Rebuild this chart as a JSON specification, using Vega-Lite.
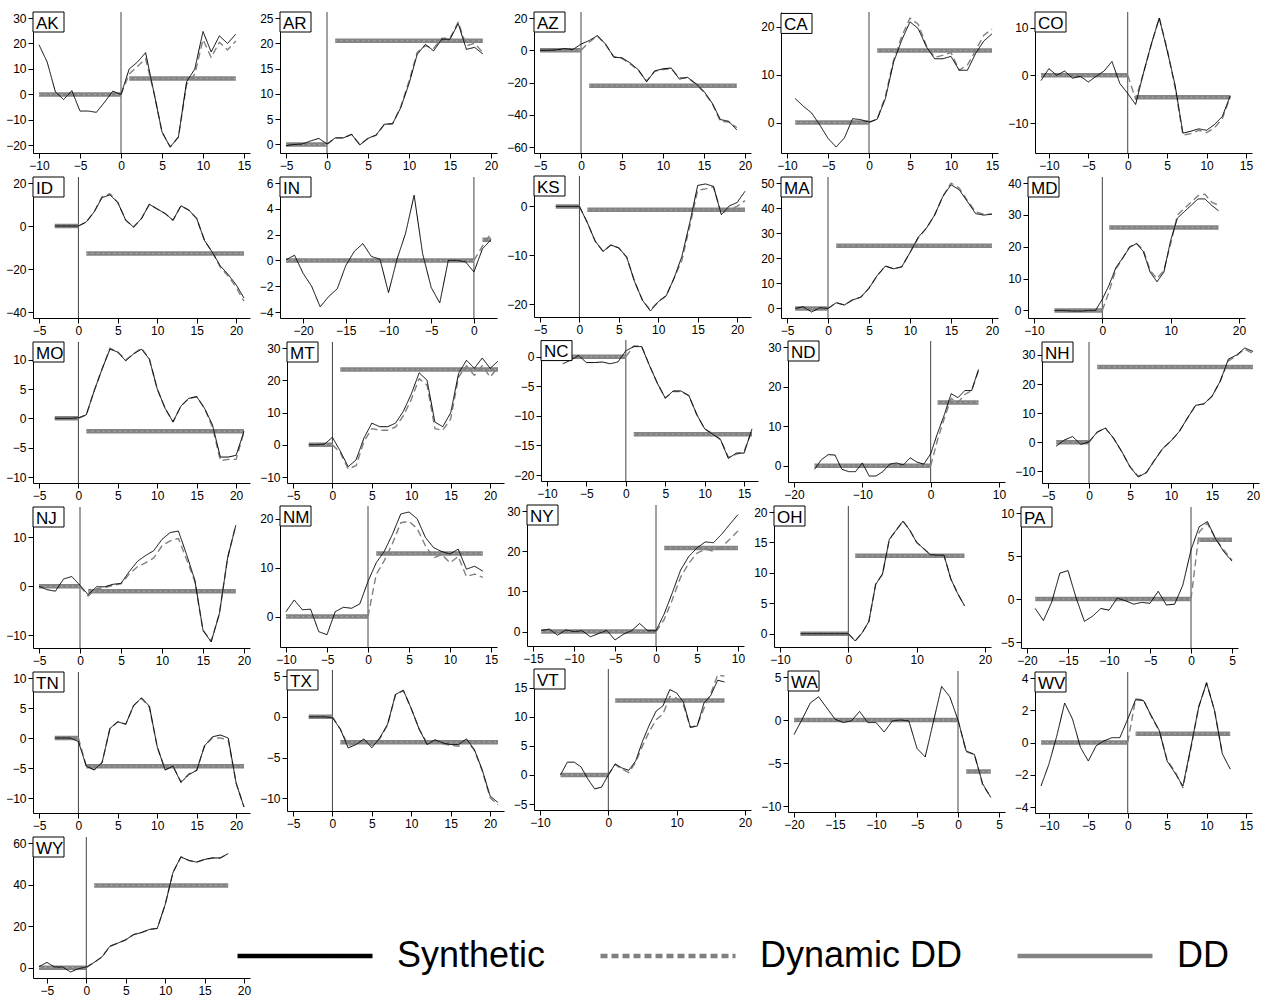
{
"$schema":"https://vega.github.io/schema/vega-lite/v6.json",
"background":"white",
"padding":{"left":5,"top":9,"right":2,"bottom":2},
"data":{"values":[
{"s":"AK","t":-10,"y":19.5,"a":0,"x0":-10,"x1":15,"y0":-20.6,"y1":30},
{"s":"AK","t":-9,"y":12.7,"a":0},{"s":"AK","t":-8,"y":1,"a":0},{"s":"AK","t":-7,"y":-2,"a":0},{"s":"AK","t":-6,"y":1.5,"a":0},{"s":"AK","t":-5,"y":-6.5,"a":0},{"s":"AK","t":-4,"y":-6.5,"a":0},{"s":"AK","t":-3,"y":-7,"a":0},{"s":"AK","t":-2,"y":-3,"a":0},{"s":"AK","t":-1,"y":1.3,"a":0},{"s":"AK","t":0,"y":0,"a":0,"d":0},
{"s":"AK","t":1,"y":10,"d":8,"b":6.3},{"s":"AK","t":2,"y":12.7,"d":11,"b":6.3},{"s":"AK","t":3,"y":16.4,"d":14,"b":6.3},{"s":"AK","t":4,"y":1,"d":1,"b":6.3},{"s":"AK","t":5,"y":-14.7,"d":-14.7,"b":6.3},{"s":"AK","t":6,"y":-20.6,"d":-20.6,"b":6.3},{"s":"AK","t":7,"y":-16.7,"d":-16.7,"b":6.3},{"s":"AK","t":8,"y":5,"d":4,"b":6.3},{"s":"AK","t":9,"y":10,"d":8,"b":6.3},{"s":"AK","t":10,"y":24.7,"d":21.5,"b":6.3},{"s":"AK","t":11,"y":16.7,"d":14.5,"b":6.3},{"s":"AK","t":12,"y":23,"d":20.5,"b":6.3},{"s":"AK","t":13,"y":20,"d":17.5,"b":6.3},{"s":"AK","t":14,"y":23.7,"d":21,"b":6.3},

{"s":"AR","t":-5,"y":-0.2,"a":0,"x0":-5,"x1":20,"y0":-0.5,"y1":25},
{"s":"AR","t":-4,"y":0,"a":0},{"s":"AR","t":-3,"y":0.1,"a":0},{"s":"AR","t":-2,"y":0.7,"a":0},{"s":"AR","t":-1,"y":1.2,"a":0},{"s":"AR","t":0,"y":0.1,"a":0,"d":0},
{"s":"AR","t":1,"y":1.3,"d":1.3,"b":20.5},{"s":"AR","t":2,"y":1.3,"d":1.3,"b":20.5},{"s":"AR","t":3,"y":2,"d":2,"b":20.5},{"s":"AR","t":4,"y":-0.1,"d":0,"b":20.5},{"s":"AR","t":5,"y":1.2,"d":1.2,"b":20.5},{"s":"AR","t":6,"y":1.9,"d":1.8,"b":20.5},{"s":"AR","t":7,"y":4,"d":4,"b":20.5},{"s":"AR","t":8,"y":4.1,"d":4.1,"b":20.5},{"s":"AR","t":9,"y":7.3,"d":7.5,"b":20.5},{"s":"AR","t":10,"y":12,"d":12.5,"b":20.5},{"s":"AR","t":11,"y":17.8,"d":18.2,"b":20.5},{"s":"AR","t":12,"y":19.8,"d":19.5,"b":20.5},{"s":"AR","t":13,"y":18.5,"d":19,"b":20.5},{"s":"AR","t":14,"y":20.8,"d":21,"b":20.5},{"s":"AR","t":15,"y":20.8,"d":21,"b":20.5},{"s":"AR","t":16,"y":23.9,"d":24.2,"b":20.5},{"s":"AR","t":17,"y":18.8,"d":19.5,"b":20.5},{"s":"AR","t":18,"y":19.2,"d":20,"b":20.5},{"s":"AR","t":19,"y":17.9,"d":18.2,"b":20.5},

{"s":"AZ","t":-5,"y":0,"a":0,"x0":-5,"x1":20,"y0":-60,"y1":20},
{"s":"AZ","t":-4,"y":0,"a":0},{"s":"AZ","t":-3,"y":0.2,"a":0},{"s":"AZ","t":-2,"y":1,"a":0},{"s":"AZ","t":-1,"y":0.4,"a":0},{"s":"AZ","t":0,"y":3.8,"a":0,"d":0},
{"s":"AZ","t":1,"y":6,"d":5,"b":-22},{"s":"AZ","t":2,"y":9.1,"d":8.8,"b":-22},{"s":"AZ","t":3,"y":3.8,"d":3.5,"b":-22},{"s":"AZ","t":4,"y":-4.3,"d":-4,"b":-22},{"s":"AZ","t":5,"y":-4.7,"d":-5,"b":-22},{"s":"AZ","t":6,"y":-7.9,"d":-8.5,"b":-22},{"s":"AZ","t":7,"y":-12.1,"d":-12.5,"b":-22},{"s":"AZ","t":8,"y":-19.6,"d":-19,"b":-22},{"s":"AZ","t":9,"y":-12.8,"d":-13,"b":-22},{"s":"AZ","t":10,"y":-11.5,"d":-12,"b":-22},{"s":"AZ","t":11,"y":-11,"d":-11.5,"b":-22},{"s":"AZ","t":12,"y":-17.9,"d":-17,"b":-22},{"s":"AZ","t":13,"y":-16.8,"d":-17,"b":-22},{"s":"AZ","t":14,"y":-20.6,"d":-21,"b":-22},{"s":"AZ","t":15,"y":-25.5,"d":-26,"b":-22},{"s":"AZ","t":16,"y":-32.8,"d":-33,"b":-22},{"s":"AZ","t":17,"y":-43,"d":-44,"b":-22},{"s":"AZ","t":18,"y":-44,"d":-44.5,"b":-22},{"s":"AZ","t":19,"y":-49.4,"d":-48,"b":-22},

{"s":"CA","t":-9,"y":5,"a":0,"x0":-10,"x1":15,"y0":-5.1,"y1":21.5},
{"s":"CA","t":-8,"y":3.4,"a":0},{"s":"CA","t":-7,"y":2,"a":0},{"s":"CA","t":-6,"y":-0.5,"a":0},{"s":"CA","t":-5,"y":-3.3,"a":0},{"s":"CA","t":-4,"y":-5.1,"a":0},{"s":"CA","t":-3,"y":-3.2,"a":0},{"s":"CA","t":-2,"y":0.8,"a":0},{"s":"CA","t":-1,"y":0.6,"a":0},{"s":"CA","t":0,"y":0.1,"a":0,"d":0},
{"s":"CA","t":1,"y":0.7,"d":0.7,"b":15},{"s":"CA","t":2,"y":5,"d":5.5,"b":15},{"s":"CA","t":3,"y":12.6,"d":13,"b":15},{"s":"CA","t":4,"y":17.2,"d":18,"b":15},{"s":"CA","t":5,"y":21,"d":21.8,"b":15},{"s":"CA","t":6,"y":19.6,"d":20.5,"b":15},{"s":"CA","t":7,"y":15.8,"d":16,"b":15},{"s":"CA","t":8,"y":13.3,"d":13.6,"b":15},{"s":"CA","t":9,"y":13.3,"d":14,"b":15},{"s":"CA","t":10,"y":13.8,"d":14.6,"b":15},{"s":"CA","t":11,"y":10.9,"d":10.9,"b":15},{"s":"CA","t":12,"y":10.9,"d":12,"b":15},{"s":"CA","t":13,"y":14.4,"d":15,"b":15},{"s":"CA","t":14,"y":17,"d":18.2,"b":15},{"s":"CA","t":15,"y":18.5,"d":19.5,"b":15},

{"s":"CO","t":-11,"y":-1.1,"a":0,"x0":-11,"x1":15,"y0":-15,"y1":12},
{"s":"CO","t":-10,"y":1.4,"a":0},{"s":"CO","t":-9,"y":0,"a":0},{"s":"CO","t":-8,"y":0.9,"a":0},{"s":"CO","t":-7,"y":-0.6,"a":0},{"s":"CO","t":-6,"y":-0.2,"a":0},{"s":"CO","t":-5,"y":-1.4,"a":0},{"s":"CO","t":-4,"y":-0.2,"a":0},{"s":"CO","t":-3,"y":0.9,"a":0},{"s":"CO","t":-2,"y":2.9,"a":0},{"s":"CO","t":-1,"y":-1.7,"a":0},{"s":"CO","t":0,"y":-3.8,"a":0,"d":0},
{"s":"CO","t":1,"y":-6.1,"d":-5,"b":-4.6},{"s":"CO","t":2,"y":0.5,"d":0.5,"b":-4.6},{"s":"CO","t":3,"y":6.6,"d":6.5,"b":-4.6},{"s":"CO","t":4,"y":12,"d":12,"b":-4.6},{"s":"CO","t":5,"y":5.2,"d":5.5,"b":-4.6},{"s":"CO","t":6,"y":-2,"d":-2.5,"b":-4.6},{"s":"CO","t":7,"y":-12.1,"d":-12.5,"b":-4.6},{"s":"CO","t":8,"y":-11.7,"d":-12.2,"b":-4.6},{"s":"CO","t":9,"y":-11.2,"d":-11.5,"b":-4.6},{"s":"CO","t":10,"y":-11.5,"d":-12,"b":-4.6},{"s":"CO","t":11,"y":-10.3,"d":-11,"b":-4.6},{"s":"CO","t":12,"y":-8.6,"d":-9,"b":-4.6},{"s":"CO","t":13,"y":-4.3,"d":-4.5,"b":-4.6},

{"s":"ID","t":-3,"y":0,"a":0,"x0":-5,"x1":21,"y0":-40,"y1":20},
{"s":"ID","t":-2,"y":0,"a":0},{"s":"ID","t":-1,"y":0,"a":0},{"s":"ID","t":0,"y":0,"a":0,"d":0},
{"s":"ID","t":1,"y":1.9,"d":1.9,"b":-12.8},{"s":"ID","t":2,"y":6.6,"d":6.6,"b":-12.8},{"s":"ID","t":3,"y":13.2,"d":13.7,"b":-12.8},{"s":"ID","t":4,"y":14.5,"d":15,"b":-12.8},{"s":"ID","t":5,"y":10.9,"d":10.9,"b":-12.8},{"s":"ID","t":6,"y":2.7,"d":2.7,"b":-12.8},{"s":"ID","t":7,"y":-0.5,"d":-0.5,"b":-12.8},{"s":"ID","t":8,"y":3.5,"d":3.5,"b":-12.8},{"s":"ID","t":9,"y":10.1,"d":10.1,"b":-12.8},{"s":"ID","t":10,"y":7.9,"d":7.9,"b":-12.8},{"s":"ID","t":11,"y":5.8,"d":5.8,"b":-12.8},{"s":"ID","t":12,"y":2.7,"d":2.7,"b":-12.8},{"s":"ID","t":13,"y":9.4,"d":9.4,"b":-12.8},{"s":"ID","t":14,"y":7.4,"d":7.4,"b":-12.8},{"s":"ID","t":15,"y":3.5,"d":3.5,"b":-12.8},{"s":"ID","t":16,"y":-6.8,"d":-6.8,"b":-12.8},{"s":"ID","t":17,"y":-12.3,"d":-12.3,"b":-12.8},{"s":"ID","t":18,"y":-18.6,"d":-19.2,"b":-12.8},{"s":"ID","t":19,"y":-22.6,"d":-23.3,"b":-12.8},{"s":"ID","t":20,"y":-27.3,"d":-28.5,"b":-12.8},{"s":"ID","t":21,"y":-33.5,"d":-35,"b":-12.8},

{"s":"IN","t":-22,"y":0.05,"a":0,"x0":-22,"x1":2,"y0":-4,"y1":6},
{"s":"IN","t":-21,"y":0.4,"a":0},{"s":"IN","t":-20,"y":-1,"a":0},{"s":"IN","t":-19,"y":-2,"a":0},{"s":"IN","t":-18,"y":-3.6,"a":0},{"s":"IN","t":-17,"y":-2.8,"a":0},{"s":"IN","t":-16,"y":-2.2,"a":0},{"s":"IN","t":-15,"y":-0.4,"a":0},{"s":"IN","t":-14,"y":0.7,"a":0},{"s":"IN","t":-13,"y":1.3,"a":0},{"s":"IN","t":-12,"y":0.3,"a":0},{"s":"IN","t":-11,"y":0.1,"a":0},{"s":"IN","t":-10,"y":-2.5,"a":0},{"s":"IN","t":-9,"y":0.1,"a":0},{"s":"IN","t":-8,"y":2.1,"a":0},{"s":"IN","t":-7,"y":5.05,"a":0},{"s":"IN","t":-6,"y":0.5,"a":0},{"s":"IN","t":-5,"y":-2.1,"a":0},{"s":"IN","t":-4,"y":-3.3,"a":0},{"s":"IN","t":-3,"y":0,"a":0},{"s":"IN","t":-2,"y":0,"a":0},{"s":"IN","t":-1,"y":-0.1,"a":0},{"s":"IN","t":0,"y":-0.9,"a":0,"d":0},
{"s":"IN","t":1,"y":0.9,"d":1.1,"b":1.6},{"s":"IN","t":2,"y":1.6,"d":2.1,"b":1.6},

{"s":"KS","t":-3,"y":0,"a":0,"x0":-5,"x1":21,"y0":-21.4,"y1":5},
{"s":"KS","t":-2,"y":0,"a":0},{"s":"KS","t":-1,"y":0,"a":0},{"s":"KS","t":0,"y":0,"a":0,"d":0},
{"s":"KS","t":1,"y":-3.3,"d":-3.3,"b":-0.7},{"s":"KS","t":2,"y":-7.1,"d":-7.1,"b":-0.7},{"s":"KS","t":3,"y":-9.2,"d":-9.2,"b":-0.7},{"s":"KS","t":4,"y":-7.9,"d":-7.9,"b":-0.7},{"s":"KS","t":5,"y":-8.5,"d":-8.5,"b":-0.7},{"s":"KS","t":6,"y":-10.4,"d":-10.4,"b":-0.7},{"s":"KS","t":7,"y":-15.4,"d":-15.4,"b":-0.7},{"s":"KS","t":8,"y":-19.2,"d":-19.2,"b":-0.7},{"s":"KS","t":9,"y":-21.4,"d":-21.2,"b":-0.7},{"s":"KS","t":10,"y":-19.5,"d":-19.5,"b":-0.7},{"s":"KS","t":11,"y":-18.3,"d":-18.3,"b":-0.7},{"s":"KS","t":12,"y":-14.7,"d":-14.7,"b":-0.7},{"s":"KS","t":13,"y":-10.2,"d":-11,"b":-0.7},{"s":"KS","t":14,"y":-3.3,"d":-4,"b":-0.7},{"s":"KS","t":15,"y":4.3,"d":3.3,"b":-0.7},{"s":"KS","t":16,"y":4.6,"d":3.6,"b":-0.7},{"s":"KS","t":17,"y":4.1,"d":4,"b":-0.7},{"s":"KS","t":18,"y":-1.7,"d":-1.5,"b":-0.7},{"s":"KS","t":19,"y":0.1,"d":-0.5,"b":-0.7},{"s":"KS","t":20,"y":0.8,"d":0,"b":-0.7},{"s":"KS","t":21,"y":3.1,"d":1.2,"b":-0.7},

{"s":"MA","t":-4,"y":0,"a":0,"x0":-5,"x1":20,"y0":-1.4,"y1":50},
{"s":"MA","t":-3,"y":0.7,"a":0},{"s":"MA","t":-2,"y":-1.4,"a":0},{"s":"MA","t":-1,"y":0.3,"a":0},{"s":"MA","t":0,"y":0,"a":0,"d":0},
{"s":"MA","t":1,"y":2.3,"d":2.3,"b":25},{"s":"MA","t":2,"y":1.4,"d":1.4,"b":25},{"s":"MA","t":3,"y":3.4,"d":3.4,"b":25},{"s":"MA","t":4,"y":4.5,"d":4.5,"b":25},{"s":"MA","t":5,"y":8.1,"d":8.1,"b":25},{"s":"MA","t":6,"y":13.1,"d":13.1,"b":25},{"s":"MA","t":7,"y":16.9,"d":16.9,"b":25},{"s":"MA","t":8,"y":15.8,"d":15.8,"b":25},{"s":"MA","t":9,"y":16.6,"d":16.6,"b":25},{"s":"MA","t":10,"y":22.3,"d":22.3,"b":25},{"s":"MA","t":11,"y":28.4,"d":28,"b":25},{"s":"MA","t":12,"y":32,"d":32,"b":25},{"s":"MA","t":13,"y":37.2,"d":37.2,"b":25},{"s":"MA","t":14,"y":44.6,"d":44.6,"b":25},{"s":"MA","t":15,"y":49.3,"d":50,"b":25},{"s":"MA","t":16,"y":47.3,"d":48,"b":25},{"s":"MA","t":17,"y":42.6,"d":43,"b":25},{"s":"MA","t":18,"y":37.8,"d":38.5,"b":25},{"s":"MA","t":19,"y":37.2,"d":37.5,"b":25},{"s":"MA","t":20,"y":37.6,"d":37.6,"b":25},

{"s":"MD","t":-7,"y":0,"a":0,"x0":-10,"x1":20,"y0":-0.5,"y1":40},
{"s":"MD","t":-6,"y":0,"a":0},{"s":"MD","t":-5,"y":-0.1,"a":0},{"s":"MD","t":-4,"y":-0.2,"a":0},{"s":"MD","t":-3,"y":-0.2,"a":0},{"s":"MD","t":-2,"y":0,"a":0},{"s":"MD","t":-1,"y":0,"a":0},{"s":"MD","t":0,"y":3.5,"a":0,"d":0},
{"s":"MD","t":1,"y":8,"d":6,"b":26},{"s":"MD","t":2,"y":13.5,"d":13,"b":26},{"s":"MD","t":3,"y":16.5,"d":16.5,"b":26},{"s":"MD","t":4,"y":19.8,"d":20,"b":26},{"s":"MD","t":5,"y":21,"d":21,"b":26},{"s":"MD","t":6,"y":18.5,"d":19,"b":26},{"s":"MD","t":7,"y":12,"d":12.5,"b":26},{"s":"MD","t":8,"y":9,"d":10,"b":26},{"s":"MD","t":9,"y":12,"d":12.5,"b":26},{"s":"MD","t":10,"y":22,"d":21,"b":26},{"s":"MD","t":11,"y":29,"d":30,"b":26},{"s":"MD","t":12,"y":31,"d":32,"b":26},{"s":"MD","t":13,"y":33,"d":34,"b":26},{"s":"MD","t":14,"y":35,"d":36,"b":26},{"s":"MD","t":15,"y":35,"d":36.5,"b":26},{"s":"MD","t":16,"y":33,"d":34,"b":26},{"s":"MD","t":17,"y":31.3,"d":33,"b":26},

{"s":"MO","t":-3,"y":0,"a":0,"x0":-5,"x1":21,"y0":-10,"y1":12},
{"s":"MO","t":-2,"y":0,"a":0},{"s":"MO","t":-1,"y":0,"a":0},{"s":"MO","t":0,"y":0.1,"a":0,"d":0},
{"s":"MO","t":1,"y":0.6,"d":0.6,"b":-2.2},{"s":"MO","t":2,"y":4.7,"d":4.7,"b":-2.2},{"s":"MO","t":3,"y":8.4,"d":8.4,"b":-2.2},{"s":"MO","t":4,"y":11.8,"d":12,"b":-2.2},{"s":"MO","t":5,"y":11.3,"d":11.3,"b":-2.2},{"s":"MO","t":6,"y":9.8,"d":10,"b":-2.2},{"s":"MO","t":7,"y":11,"d":11,"b":-2.2},{"s":"MO","t":8,"y":11.8,"d":12,"b":-2.2},{"s":"MO","t":9,"y":10.1,"d":10.1,"b":-2.2},{"s":"MO","t":10,"y":5,"d":5,"b":-2.2},{"s":"MO","t":11,"y":1.7,"d":1.7,"b":-2.2},{"s":"MO","t":12,"y":-0.6,"d":-0.6,"b":-2.2},{"s":"MO","t":13,"y":2.1,"d":2.1,"b":-2.2},{"s":"MO","t":14,"y":3.4,"d":3.4,"b":-2.2},{"s":"MO","t":15,"y":3.7,"d":3.7,"b":-2.2},{"s":"MO","t":16,"y":1.7,"d":1.7,"b":-2.2},{"s":"MO","t":17,"y":-1.1,"d":-1.5,"b":-2.2},{"s":"MO","t":18,"y":-6.6,"d":-7.2,"b":-2.2},{"s":"MO","t":19,"y":-6.6,"d":-7,"b":-2.2},{"s":"MO","t":20,"y":-6.3,"d":-7,"b":-2.2},{"s":"MO","t":21,"y":-2.2,"d":-2.3,"b":-2.2},

{"s":"MT","t":-3,"y":0,"a":0,"x0":-5,"x1":21,"y0":-10,"y1":30},
{"s":"MT","t":-2,"y":0,"a":0},{"s":"MT","t":-1,"y":0.2,"a":0},{"s":"MT","t":0,"y":2.3,"a":0,"d":0},
{"s":"MT","t":1,"y":-2,"d":-2.5,"b":23.3},{"s":"MT","t":2,"y":-6.8,"d":-7.5,"b":23.3},{"s":"MT","t":3,"y":-4.7,"d":-6.5,"b":23.3},{"s":"MT","t":4,"y":2.1,"d":1,"b":23.3},{"s":"MT","t":5,"y":6.7,"d":5,"b":23.3},{"s":"MT","t":6,"y":5.6,"d":4.5,"b":23.3},{"s":"MT","t":7,"y":5.6,"d":4.5,"b":23.3},{"s":"MT","t":8,"y":6.7,"d":5.5,"b":23.3},{"s":"MT","t":9,"y":10.4,"d":9,"b":23.3},{"s":"MT","t":10,"y":15.7,"d":14,"b":23.3},{"s":"MT","t":11,"y":22.3,"d":20.5,"b":23.3},{"s":"MT","t":12,"y":20,"d":18.5,"b":23.3},{"s":"MT","t":13,"y":7,"d":5,"b":23.3},{"s":"MT","t":14,"y":5.6,"d":4.5,"b":23.3},{"s":"MT","t":15,"y":9.9,"d":8,"b":23.3},{"s":"MT","t":16,"y":22.1,"d":21,"b":23.3},{"s":"MT","t":17,"y":26.2,"d":24.5,"b":23.3},{"s":"MT","t":18,"y":23.7,"d":21.5,"b":23.3},{"s":"MT","t":19,"y":26.9,"d":24.5,"b":23.3},{"s":"MT","t":20,"y":23.7,"d":21,"b":23.3},{"s":"MT","t":21,"y":25.9,"d":24,"b":23.3},

{"s":"NC","t":-8,"y":-1.2,"a":0,"x0":-10,"x1":16,"y0":-20,"y1":1.7},
{"s":"NC","t":-7,"y":-0.6,"a":0},{"s":"NC","t":-6,"y":0.2,"a":0},{"s":"NC","t":-5,"y":-1,"a":0},{"s":"NC","t":-4,"y":-1,"a":0},{"s":"NC","t":-3,"y":-0.9,"a":0},{"s":"NC","t":-2,"y":-1.2,"a":0},{"s":"NC","t":-1,"y":-0.9,"a":0},{"s":"NC","t":0,"y":1,"a":0,"d":0},
{"s":"NC","t":1,"y":1.7,"d":1.8,"b":-13.1},{"s":"NC","t":2,"y":1.7,"d":1.8,"b":-13.1},{"s":"NC","t":3,"y":-1.5,"d":-1.5,"b":-13.1},{"s":"NC","t":4,"y":-4.5,"d":-4.5,"b":-13.1},{"s":"NC","t":5,"y":-7,"d":-7,"b":-13.1},{"s":"NC","t":6,"y":-5.8,"d":-5.9,"b":-13.1},{"s":"NC","t":7,"y":-5.8,"d":-5.9,"b":-13.1},{"s":"NC","t":8,"y":-6.6,"d":-6.6,"b":-13.1},{"s":"NC","t":9,"y":-9.8,"d":-9.8,"b":-13.1},{"s":"NC","t":10,"y":-12.2,"d":-12.2,"b":-13.1},{"s":"NC","t":11,"y":-13.1,"d":-13,"b":-13.1},{"s":"NC","t":12,"y":-14,"d":-14,"b":-13.1},{"s":"NC","t":13,"y":-17.2,"d":-17,"b":-13.1},{"s":"NC","t":14,"y":-16.3,"d":-16.5,"b":-13.1},{"s":"NC","t":15,"y":-16.3,"d":-16,"b":-13.1},{"s":"NC","t":16,"y":-12.2,"d":-12.5,"b":-13.1},

{"s":"ND","t":-17,"y":-0.9,"a":0,"x0":-20,"x1":10,"y0":-2.6,"y1":30},
{"s":"ND","t":-16,"y":1.5,"a":0},{"s":"ND","t":-15,"y":2.8,"a":0},{"s":"ND","t":-14,"y":2.7,"a":0},{"s":"ND","t":-13,"y":-0.9,"a":0},{"s":"ND","t":-12,"y":-1.5,"a":0},{"s":"ND","t":-11,"y":-1.5,"a":0},{"s":"ND","t":-10,"y":0.7,"a":0},{"s":"ND","t":-9,"y":-2.6,"a":0},{"s":"ND","t":-8,"y":-2.6,"a":0},{"s":"ND","t":-7,"y":-1.5,"a":0},{"s":"ND","t":-6,"y":0.4,"a":0},{"s":"ND","t":-5,"y":0.7,"a":0},{"s":"ND","t":-4,"y":0.2,"a":0},{"s":"ND","t":-3,"y":2,"a":0},{"s":"ND","t":-2,"y":0.9,"a":0},{"s":"ND","t":-1,"y":0.4,"a":0},{"s":"ND","t":0,"y":3,"a":0,"d":0},
{"s":"ND","t":1,"y":8.2,"d":6.5,"b":16},{"s":"ND","t":2,"y":12.9,"d":12,"b":16},{"s":"ND","t":3,"y":18.2,"d":17,"b":16},{"s":"ND","t":4,"y":17.2,"d":16,"b":16},{"s":"ND","t":5,"y":19,"d":18,"b":16},{"s":"ND","t":6,"y":19,"d":19,"b":16},{"s":"ND","t":7,"y":24.3,"d":24,"b":16},

{"s":"NH","t":-4,"y":-1.3,"a":0,"x0":-5,"x1":20,"y0":-11.9,"y1":32.4},
{"s":"NH","t":-3,"y":0.8,"a":0},{"s":"NH","t":-2,"y":2,"a":0},{"s":"NH","t":-1,"y":-0.7,"a":0},{"s":"NH","t":0,"y":0.2,"a":0,"d":0},
{"s":"NH","t":1,"y":3.5,"d":3.5,"b":25.9},{"s":"NH","t":2,"y":4.9,"d":4.9,"b":25.9},{"s":"NH","t":3,"y":1.4,"d":1.4,"b":25.9},{"s":"NH","t":4,"y":-3.2,"d":-3.2,"b":25.9},{"s":"NH","t":5,"y":-8.4,"d":-8.4,"b":25.9},{"s":"NH","t":6,"y":-11.9,"d":-11.6,"b":25.9},{"s":"NH","t":7,"y":-10.4,"d":-10.4,"b":25.9},{"s":"NH","t":8,"y":-6.1,"d":-6.1,"b":25.9},{"s":"NH","t":9,"y":-2.1,"d":-2.1,"b":25.9},{"s":"NH","t":10,"y":0.5,"d":0.5,"b":25.9},{"s":"NH","t":11,"y":3.7,"d":3.7,"b":25.9},{"s":"NH","t":12,"y":8.3,"d":8.3,"b":25.9},{"s":"NH","t":13,"y":12.7,"d":12.7,"b":25.9},{"s":"NH","t":14,"y":13.2,"d":13.2,"b":25.9},{"s":"NH","t":15,"y":15.8,"d":15.8,"b":25.9},{"s":"NH","t":16,"y":21,"d":21,"b":25.9},{"s":"NH","t":17,"y":28.6,"d":28,"b":25.9},{"s":"NH","t":18,"y":30,"d":29.8,"b":25.9},{"s":"NH","t":19,"y":32.4,"d":32,"b":25.9},{"s":"NH","t":20,"y":31.2,"d":30.5,"b":25.9},

{"s":"NJ","t":-5,"y":0,"a":0,"x0":-5,"x1":20,"y0":-11.4,"y1":15},
{"s":"NJ","t":-4,"y":-0.7,"a":0},{"s":"NJ","t":-3,"y":-1,"a":0},{"s":"NJ","t":-2,"y":1.5,"a":0},{"s":"NJ","t":-1,"y":2,"a":0},{"s":"NJ","t":0,"y":0.2,"a":0,"d":0},
{"s":"NJ","t":1,"y":-1.7,"d":-2,"b":-1},{"s":"NJ","t":2,"y":-0.1,"d":-0.5,"b":-1},{"s":"NJ","t":3,"y":-0.1,"d":-0.3,"b":-1},{"s":"NJ","t":4,"y":0.4,"d":0.2,"b":-1},{"s":"NJ","t":5,"y":0.6,"d":0.5,"b":-1},{"s":"NJ","t":6,"y":3,"d":2.5,"b":-1},{"s":"NJ","t":7,"y":5.1,"d":4,"b":-1},{"s":"NJ","t":8,"y":6.3,"d":4.8,"b":-1},{"s":"NJ","t":9,"y":7.3,"d":5.8,"b":-1},{"s":"NJ","t":10,"y":9.6,"d":8.3,"b":-1},{"s":"NJ","t":11,"y":11,"d":9.3,"b":-1},{"s":"NJ","t":12,"y":11.3,"d":9.8,"b":-1},{"s":"NJ","t":13,"y":6.5,"d":5.5,"b":-1},{"s":"NJ","t":14,"y":1.3,"d":1,"b":-1},{"s":"NJ","t":15,"y":-9,"d":-9,"b":-1},{"s":"NJ","t":16,"y":-11.4,"d":-11.2,"b":-1},{"s":"NJ","t":17,"y":-5.6,"d":-5.6,"b":-1},{"s":"NJ","t":18,"y":5.8,"d":5.8,"b":-1},{"s":"NJ","t":19,"y":12.5,"d":12.5,"b":-1},

{"s":"NM","t":-10,"y":1,"a":0,"x0":-10,"x1":15,"y0":-5,"y1":21.4},
{"s":"NM","t":-9,"y":3.4,"a":0},{"s":"NM","t":-8,"y":1.4,"a":0},{"s":"NM","t":-7,"y":1.5,"a":0},{"s":"NM","t":-6,"y":-3.1,"a":0},{"s":"NM","t":-5,"y":-3.7,"a":0},{"s":"NM","t":-4,"y":1,"a":0},{"s":"NM","t":-3,"y":1.9,"a":0},{"s":"NM","t":-2,"y":1.7,"a":0},{"s":"NM","t":-1,"y":2.6,"a":0},{"s":"NM","t":0,"y":7.2,"a":0,"d":0},
{"s":"NM","t":1,"y":11,"d":8.6,"b":12.9},{"s":"NM","t":2,"y":13.4,"d":11.5,"b":12.9},{"s":"NM","t":3,"y":16.9,"d":15,"b":12.9},{"s":"NM","t":4,"y":21,"d":19.2,"b":12.9},{"s":"NM","t":5,"y":21.4,"d":19.5,"b":12.9},{"s":"NM","t":6,"y":20,"d":18,"b":12.9},{"s":"NM","t":7,"y":16.2,"d":14.5,"b":12.9},{"s":"NM","t":8,"y":14.1,"d":12,"b":12.9},{"s":"NM","t":9,"y":13.3,"d":12.7,"b":12.9},{"s":"NM","t":10,"y":12.8,"d":11,"b":12.9},{"s":"NM","t":11,"y":13.8,"d":12.3,"b":12.9},{"s":"NM","t":12,"y":9.7,"d":8.2,"b":12.9},{"s":"NM","t":13,"y":10.3,"d":8.7,"b":12.9},{"s":"NM","t":14,"y":9.3,"d":8,"b":12.9},

{"s":"NY","t":-14,"y":0.3,"a":0,"x0":-15,"x1":10,"y0":-2.1,"y1":30},
{"s":"NY","t":-13,"y":0.6,"a":0},{"s":"NY","t":-12,"y":-0.9,"a":0},{"s":"NY","t":-11,"y":0.4,"a":0},{"s":"NY","t":-10,"y":0,"a":0},{"s":"NY","t":-9,"y":0.2,"a":0},{"s":"NY","t":-8,"y":-1.3,"a":0},{"s":"NY","t":-7,"y":-0.5,"a":0},{"s":"NY","t":-6,"y":0.3,"a":0},{"s":"NY","t":-5,"y":-2.1,"a":0},{"s":"NY","t":-4,"y":-0.7,"a":0},{"s":"NY","t":-3,"y":0.2,"a":0},{"s":"NY","t":-2,"y":2,"a":0},{"s":"NY","t":-1,"y":0.2,"a":0},{"s":"NY","t":0,"y":0.2,"a":0,"d":0},
{"s":"NY","t":1,"y":4.4,"d":3,"b":20.8},{"s":"NY","t":2,"y":9.7,"d":8,"b":20.8},{"s":"NY","t":3,"y":15.3,"d":13.5,"b":20.8},{"s":"NY","t":4,"y":18.7,"d":17,"b":20.8},{"s":"NY","t":5,"y":20.8,"d":19.5,"b":20.8},{"s":"NY","t":6,"y":22.3,"d":20.5,"b":20.8},{"s":"NY","t":7,"y":22.1,"d":20,"b":20.8},{"s":"NY","t":8,"y":24.2,"d":21,"b":20.8},{"s":"NY","t":9,"y":26.7,"d":23,"b":20.8},{"s":"NY","t":10,"y":29.1,"d":25,"b":20.8},

{"s":"OH","t":-7,"y":0,"a":0,"x0":-10,"x1":20,"y0":-1.2,"y1":20},
{"s":"OH","t":-6,"y":0,"a":0},{"s":"OH","t":-5,"y":0,"a":0},{"s":"OH","t":-4,"y":0,"a":0},{"s":"OH","t":-3,"y":0,"a":0},{"s":"OH","t":-2,"y":0,"a":0},{"s":"OH","t":-1,"y":0,"a":0},{"s":"OH","t":0,"y":0,"a":0,"d":0},
{"s":"OH","t":1,"y":-1.2,"d":-1.2,"b":12.8},{"s":"OH","t":2,"y":0.1,"d":0.1,"b":12.8},{"s":"OH","t":3,"y":2,"d":2,"b":12.8},{"s":"OH","t":4,"y":8.1,"d":8.1,"b":12.8},{"s":"OH","t":5,"y":9.8,"d":9.8,"b":12.8},{"s":"OH","t":6,"y":15.5,"d":15.5,"b":12.8},{"s":"OH","t":7,"y":17,"d":17,"b":12.8},{"s":"OH","t":8,"y":18.5,"d":18.5,"b":12.8},{"s":"OH","t":9,"y":17,"d":17,"b":12.8},{"s":"OH","t":10,"y":15,"d":15,"b":12.8},{"s":"OH","t":11,"y":14,"d":14,"b":12.8},{"s":"OH","t":12,"y":13,"d":13,"b":12.8},{"s":"OH","t":13,"y":12.9,"d":12.9,"b":12.8},{"s":"OH","t":14,"y":12.9,"d":12.9,"b":12.8},{"s":"OH","t":15,"y":9,"d":9,"b":12.8},{"s":"OH","t":16,"y":6.6,"d":6.6,"b":12.8},{"s":"OH","t":17,"y":4.6,"d":4.6,"b":12.8},

{"s":"PA","t":-19,"y":-1.1,"a":0,"x0":-20,"x1":5,"y0":-5,"y1":10},
{"s":"PA","t":-18,"y":-2.5,"a":0},{"s":"PA","t":-17,"y":-0.4,"a":0},{"s":"PA","t":-16,"y":3,"a":0},{"s":"PA","t":-15,"y":3.3,"a":0},{"s":"PA","t":-14,"y":0.1,"a":0},{"s":"PA","t":-13,"y":-2.6,"a":0},{"s":"PA","t":-12,"y":-2,"a":0},{"s":"PA","t":-11,"y":-1.1,"a":0},{"s":"PA","t":-10,"y":-1.3,"a":0},{"s":"PA","t":-9,"y":0.1,"a":0},{"s":"PA","t":-8,"y":-0.2,"a":0},{"s":"PA","t":-7,"y":-0.6,"a":0},{"s":"PA","t":-6,"y":-0.4,"a":0},{"s":"PA","t":-5,"y":-0.5,"a":0},{"s":"PA","t":-4,"y":0.9,"a":0},{"s":"PA","t":-3,"y":-0.7,"a":0},{"s":"PA","t":-2,"y":-0.6,"a":0},{"s":"PA","t":-1,"y":1.6,"a":0},{"s":"PA","t":0,"y":5.7,"a":0,"d":0},
{"s":"PA","t":1,"y":8.4,"d":7.8,"b":6.9},{"s":"PA","t":2,"y":9,"d":8.8,"b":6.9},{"s":"PA","t":3,"y":7,"d":7,"b":6.9},{"s":"PA","t":4,"y":5.5,"d":5.7,"b":6.9},{"s":"PA","t":5,"y":4.4,"d":4.5,"b":6.9},

{"s":"TN","t":-3,"y":0,"a":0,"x0":-5,"x1":21,"y0":-11.5,"y1":10},
{"s":"TN","t":-2,"y":0,"a":0},{"s":"TN","t":-1,"y":0,"a":0},{"s":"TN","t":0,"y":-0.6,"a":0,"d":0},
{"s":"TN","t":1,"y":-4.7,"d":-4.7,"b":-4.7},{"s":"TN","t":2,"y":-5.3,"d":-5.3,"b":-4.7},{"s":"TN","t":3,"y":-4.1,"d":-4.1,"b":-4.7},{"s":"TN","t":4,"y":1.6,"d":1.6,"b":-4.7},{"s":"TN","t":5,"y":2.7,"d":2.7,"b":-4.7},{"s":"TN","t":6,"y":2.3,"d":2.3,"b":-4.7},{"s":"TN","t":7,"y":5.4,"d":5.4,"b":-4.7},{"s":"TN","t":8,"y":6.7,"d":6.6,"b":-4.7},{"s":"TN","t":9,"y":5.3,"d":5.1,"b":-4.7},{"s":"TN","t":10,"y":-1.5,"d":-1.5,"b":-4.7},{"s":"TN","t":11,"y":-5.3,"d":-5.3,"b":-4.7},{"s":"TN","t":12,"y":-4.7,"d":-4.7,"b":-4.7},{"s":"TN","t":13,"y":-7.4,"d":-7.3,"b":-4.7},{"s":"TN","t":14,"y":-6.1,"d":-6,"b":-4.7},{"s":"TN","t":15,"y":-5.4,"d":-5.4,"b":-4.7},{"s":"TN","t":16,"y":-1.3,"d":-1.3,"b":-4.7},{"s":"TN","t":17,"y":0.2,"d":0,"b":-4.7},{"s":"TN","t":18,"y":0.5,"d":0,"b":-4.7},{"s":"TN","t":19,"y":0,"d":-0.3,"b":-4.7},{"s":"TN","t":20,"y":-7.5,"d":-7.5,"b":-4.7},{"s":"TN","t":21,"y":-11.5,"d":-11.5,"b":-4.7},

{"s":"TX","t":-3,"y":0,"a":0,"x0":-5,"x1":21,"y0":-10.8,"y1":5},
{"s":"TX","t":-2,"y":0,"a":0},{"s":"TX","t":-1,"y":0,"a":0},{"s":"TX","t":0,"y":-0.1,"a":0,"d":0},
{"s":"TX","t":1,"y":-1.5,"d":-1.5,"b":-3.1},{"s":"TX","t":2,"y":-3.8,"d":-3.5,"b":-3.1},{"s":"TX","t":3,"y":-3.4,"d":-3.3,"b":-3.1},{"s":"TX","t":4,"y":-2.7,"d":-2.9,"b":-3.1},{"s":"TX","t":5,"y":-3.8,"d":-3.5,"b":-3.1},{"s":"TX","t":6,"y":-2.6,"d":-2.7,"b":-3.1},{"s":"TX","t":7,"y":-0.9,"d":-1,"b":-3.1},{"s":"TX","t":8,"y":2.75,"d":2.7,"b":-3.1},{"s":"TX","t":9,"y":3.25,"d":3.2,"b":-3.1},{"s":"TX","t":10,"y":1,"d":1,"b":-3.1},{"s":"TX","t":11,"y":-1.5,"d":-1.5,"b":-3.1},{"s":"TX","t":12,"y":-3.4,"d":-3.2,"b":-3.1},{"s":"TX","t":13,"y":-2.8,"d":-3,"b":-3.1},{"s":"TX","t":14,"y":-3.2,"d":-3.3,"b":-3.1},{"s":"TX","t":15,"y":-3.4,"d":-3.5,"b":-3.1},{"s":"TX","t":16,"y":-3.4,"d":-3.6,"b":-3.1},{"s":"TX","t":17,"y":-2.7,"d":-2.9,"b":-3.1},{"s":"TX","t":18,"y":-4,"d":-4.1,"b":-3.1},{"s":"TX","t":19,"y":-6.5,"d":-6.6,"b":-3.1},{"s":"TX","t":20,"y":-9.7,"d":-9.9,"b":-3.1},{"s":"TX","t":21,"y":-10.5,"d":-10.8,"b":-3.1},

{"s":"VT","t":-7,"y":0,"a":0,"x0":-10,"x1":20,"y0":-5,"y1":17.2},
{"s":"VT","t":-6,"y":2.2,"a":0},{"s":"VT","t":-5,"y":2.2,"a":0},{"s":"VT","t":-4,"y":1.4,"a":0},{"s":"VT","t":-3,"y":-0.7,"a":0},{"s":"VT","t":-2,"y":-2.4,"a":0},{"s":"VT","t":-1,"y":-2.1,"a":0},{"s":"VT","t":0,"y":0,"a":0,"d":0},
{"s":"VT","t":1,"y":1.9,"d":1.8,"b":12.8},{"s":"VT","t":2,"y":1.2,"d":1,"b":12.8},{"s":"VT","t":3,"y":0.8,"d":0.4,"b":12.8},{"s":"VT","t":4,"y":2.4,"d":2.2,"b":12.8},{"s":"VT","t":5,"y":5.8,"d":5,"b":12.8},{"s":"VT","t":6,"y":8.6,"d":7.5,"b":12.8},{"s":"VT","t":7,"y":11,"d":9.5,"b":12.8},{"s":"VT","t":8,"y":11.9,"d":10.5,"b":12.8},{"s":"VT","t":9,"y":14.7,"d":13.5,"b":12.8},{"s":"VT","t":10,"y":14.1,"d":13.2,"b":12.8},{"s":"VT","t":11,"y":12.5,"d":12,"b":12.8},{"s":"VT","t":12,"y":8.2,"d":8.2,"b":12.8},{"s":"VT","t":13,"y":8.4,"d":8.5,"b":12.8},{"s":"VT","t":14,"y":12.4,"d":11.5,"b":12.8},{"s":"VT","t":15,"y":13.7,"d":14,"b":12.8},{"s":"VT","t":16,"y":16.3,"d":17.2,"b":12.8},{"s":"VT","t":17,"y":16,"d":17,"b":12.8},

{"s":"WA","t":-20,"y":-1.7,"a":0,"x0":-20,"x1":5,"y0":-10,"y1":5},
{"s":"WA","t":-19,"y":0.1,"a":0},{"s":"WA","t":-18,"y":2,"a":0},{"s":"WA","t":-17,"y":2.7,"a":0},{"s":"WA","t":-16,"y":1.4,"a":0},{"s":"WA","t":-15,"y":0.1,"a":0},{"s":"WA","t":-14,"y":-0.3,"a":0},{"s":"WA","t":-13,"y":-0.1,"a":0},{"s":"WA","t":-12,"y":1,"a":0},{"s":"WA","t":-11,"y":-0.3,"a":0},{"s":"WA","t":-10,"y":-0.3,"a":0},{"s":"WA","t":-9,"y":-1.4,"a":0},{"s":"WA","t":-8,"y":-0.1,"a":0},{"s":"WA","t":-7,"y":0,"a":0},{"s":"WA","t":-6,"y":-0.1,"a":0},{"s":"WA","t":-5,"y":-3.3,"a":0},{"s":"WA","t":-4,"y":-4.3,"a":0},{"s":"WA","t":-3,"y":-0.2,"a":0},{"s":"WA","t":-2,"y":3.9,"a":0},{"s":"WA","t":-1,"y":2.7,"a":0},{"s":"WA","t":0,"y":0,"a":0,"d":0},
{"s":"WA","t":1,"y":-3.6,"d":-3.7,"b":-6},{"s":"WA","t":2,"y":-4,"d":-4,"b":-6},{"s":"WA","t":3,"y":-7.4,"d":-7.5,"b":-6},{"s":"WA","t":4,"y":-9,"d":-9,"b":-6},

{"s":"WV","t":-11,"y":-2.7,"a":0,"x0":-11,"x1":15,"y0":-4,"y1":4},
{"s":"WV","t":-10,"y":-1.35,"a":0},{"s":"WV","t":-9,"y":0.4,"a":0},{"s":"WV","t":-8,"y":2.45,"a":0},{"s":"WV","t":-7,"y":1.45,"a":0},{"s":"WV","t":-6,"y":-0.3,"a":0},{"s":"WV","t":-5,"y":-1.15,"a":0},{"s":"WV","t":-4,"y":-0.2,"a":0},{"s":"WV","t":-3,"y":0.1,"a":0},{"s":"WV","t":-2,"y":0.3,"a":0},{"s":"WV","t":-1,"y":0.3,"a":0},{"s":"WV","t":0,"y":1.45,"a":0,"d":0},
{"s":"WV","t":1,"y":2.65,"d":2.7,"b":0.55},{"s":"WV","t":2,"y":2.6,"d":2.65,"b":0.55},{"s":"WV","t":3,"y":1.65,"d":1.6,"b":0.55},{"s":"WV","t":4,"y":0.75,"d":0.7,"b":0.55},{"s":"WV","t":5,"y":-1.15,"d":-1.1,"b":0.55},{"s":"WV","t":6,"y":-1.9,"d":-1.8,"b":0.55},{"s":"WV","t":7,"y":-2.7,"d":-2.8,"b":0.55},{"s":"WV","t":8,"y":-0.3,"d":-0.4,"b":0.55},{"s":"WV","t":9,"y":2.2,"d":2.2,"b":0.55},{"s":"WV","t":10,"y":3.7,"d":3.7,"b":0.55},{"s":"WV","t":11,"y":2,"d":2,"b":0.55},{"s":"WV","t":12,"y":-0.7,"d":-0.7,"b":0.55},{"s":"WV","t":13,"y":-1.65,"b":0.55},

{"s":"WY","t":-6,"y":0.5,"a":0,"x0":-6,"x1":20,"y0":-2.1,"y1":60},
{"s":"WY","t":-5,"y":2.5,"a":0},{"s":"WY","t":-4,"y":0.3,"a":0},{"s":"WY","t":-3,"y":0.3,"a":0},{"s":"WY","t":-2,"y":-2.1,"a":0},{"s":"WY","t":-1,"y":-0.5,"a":0},{"s":"WY","t":0,"y":0.3,"a":0,"d":0},
{"s":"WY","t":1,"y":2.5,"d":2.5,"b":39.6},{"s":"WY","t":2,"y":5.2,"d":5.2,"b":39.6},{"s":"WY","t":3,"y":10.3,"d":10.3,"b":39.6},{"s":"WY","t":4,"y":11.8,"d":11.8,"b":39.6},{"s":"WY","t":5,"y":13.4,"d":13.4,"b":39.6},{"s":"WY","t":6,"y":15.9,"d":15.9,"b":39.6},{"s":"WY","t":7,"y":16.9,"d":16.9,"b":39.6},{"s":"WY","t":8,"y":18.4,"d":18.4,"b":39.6},{"s":"WY","t":9,"y":18.9,"d":18.9,"b":39.6},{"s":"WY","t":10,"y":30.3,"d":30.3,"b":39.6},{"s":"WY","t":11,"y":45.9,"d":45.9,"b":39.6},{"s":"WY","t":12,"y":53.3,"d":53.3,"b":39.6},{"s":"WY","t":13,"y":51.6,"d":51.6,"b":39.6},{"s":"WY","t":14,"y":50.8,"d":50.8,"b":39.6},{"s":"WY","t":15,"y":52.1,"d":52.1,"b":39.6},{"s":"WY","t":16,"y":52.8,"d":52.8,"b":39.6},{"s":"WY","t":17,"y":52.8,"d":52.8,"b":39.6},{"s":"WY","t":18,"y":54.9,"d":54.9,"b":39.6}
]},
"facet":{"field":"s","type":"nominal","title":null,"header":{"title":null,"labelExpr":"''","labelFontSize":0,"labelPadding":0}},
"columns":5,
"spacing":{"row":3,"column":8},
"resolve":{"scale":{"x":"independent","y":"independent"}},
"spec":{
"width":217,
"height":141,
"layer":[
{"mark":{"type":"rect","opacity":0},
 "encoding":{
  "x":{"field":"x0","type":"quantitative","title":null,"scale":{"zero":false,"nice":false,"padding":6}},
  "x2":{"field":"x1"},
  "y":{"field":"y0","type":"quantitative","title":null,"scale":{"zero":false,"nice":false,"padding":6}},
  "y2":{"field":"y1"}}},
{"transform":[{"filter":{"field":"x0","valid":true}}],
 "mark":{"type":"rule","color":"#444444","strokeWidth":1},
 "encoding":{"x":{"datum":0,"type":"quantitative","title":null}}},
{"mark":{"type":"line","strokeWidth":4.5,"strokeCap":"butt"},
 "encoding":{"x":{"field":"t","type":"quantitative","title":null},"y":{"field":"a","type":"quantitative","title":null},"color":{"datum":"DD","type":"nominal"},"strokeDash":{"datum":"DD","type":"nominal"}}},
{"mark":{"type":"line","strokeWidth":4.5,"strokeCap":"butt"},
 "encoding":{"x":{"field":"t","type":"quantitative","title":null},"y":{"field":"b","type":"quantitative","title":null},"color":{"datum":"DD","type":"nominal"},"strokeDash":{"datum":"DD","type":"nominal"}}},
{"mark":{"type":"line","strokeWidth":1,"strokeDash":[1.5,4],"color":"#b4b4b4"},
 "encoding":{"x":{"field":"t","type":"quantitative","title":null},"y":{"field":"a","type":"quantitative","title":null}}},
{"mark":{"type":"line","strokeWidth":1,"strokeDash":[1.5,4],"color":"#b4b4b4"},
 "encoding":{"x":{"field":"t","type":"quantitative","title":null},"y":{"field":"b","type":"quantitative","title":null}}},
{"mark":{"type":"line","strokeWidth":1.4},
 "encoding":{"x":{"field":"t","type":"quantitative","title":null},"y":{"field":"d","type":"quantitative","title":null},"color":{"datum":"Dynamic DD","type":"nominal"},"strokeDash":{"datum":"Dynamic DD","type":"nominal"}}},
{"mark":{"type":"line","strokeWidth":1},
 "encoding":{"x":{"field":"t","type":"quantitative","title":null},"y":{"field":"y","type":"quantitative","title":null},
  "strokeDash":{"datum":"Synthetic","type":"nominal","scale":{"domain":["Synthetic","Dynamic DD","DD"],"range":[[1,0],[7,4],[1,0]]}},
  "color":{"datum":"Synthetic","type":"nominal",
   "scale":{"domain":["Synthetic","Dynamic DD","DD"],"range":["#000000","#808080","#848484"]},
   "legend":{"orient":"none","legendX":202,"legendY":874,"direction":"horizontal","title":null,
     "symbolType":"stroke","symbolSize":18225,"symbolStrokeWidth":4.5,
     "labelFontSize":36,"labelFont":"Liberation Sans Narrow, Liberation Sans, sans-serif","labelColor":"#000000",
     "labelOffset":22,"columnPadding":52,"labelLimit":600}}}},
{"mark":{"type":"point","shape":"M-6,-6H25V14H-6Z","size":4,"filled":true,"fill":"#ffffff","stroke":"#000000","strokeWidth":1,"opacity":1},
 "encoding":{"x":{"field":"x0","type":"quantitative","title":null},"y":{"field":"y1","type":"quantitative","title":null}}},
{"mark":{"type":"text","align":"left","baseline":"alphabetic","dx":-3,"dy":10.5,"fontSize":17,"font":"Liberation Sans Narrow, Liberation Sans, sans-serif","color":"#000000"},
 "encoding":{"x":{"field":"x0","type":"quantitative","title":null},"y":{"field":"y1","type":"quantitative","title":null},"text":{"field":"s"}}}
]},
"config":{
 "view":{"stroke":null},
 "font":"Liberation Sans Narrow, Liberation Sans, sans-serif",
 "axis":{"grid":false,"domainColor":"#000000","tickColor":"#000000","labelColor":"#000000","labelFontSize":12,"labelFont":"Liberation Sans Narrow, Liberation Sans, sans-serif","tickSize":5,"labelPadding":2,"domainWidth":1,"tickWidth":1},
 "axisX":{"tickCount":4,"labelFlush":false},
 "legend":{"symbolStrokeWidth":4.5},
 "line":{"strokeJoin":"round"}
}
}
